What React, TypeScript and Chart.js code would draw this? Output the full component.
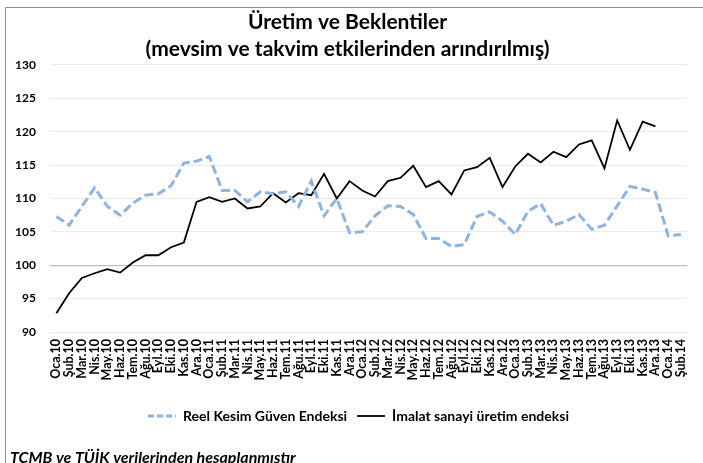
import { useEffect, useRef } from 'react';
import { Chart, registerables } from 'chart.js';

Chart.register(...registerables);

const FONT = 'Lato, "Open Sans", "DejaVu Sans", sans-serif';

const titleLines = ['Üretim ve Beklentiler', '(mevsim ve takvim etkilerinden arındırılmış)'];
const footerText = 'TCMB ve TÜİK verilerinden hesaplanmıştır';
const seriesNames = ['Reel Kesim Güven Endeksi', 'İmalat sanayi üretim endeksi'];

const categories = [
  'Oca.10', 'Şub.10', 'Mar.10', 'Nis.10', 'May.10', 'Haz.10', 'Tem.10', 'Ağu.10', 'Eyl.10', 'Eki.10', 'Kas.10', 'Ara.10',
  'Oca.11', 'Şub.11', 'Mar.11', 'Nis.11', 'May.11', 'Haz.11', 'Tem.11', 'Ağu.11', 'Eyl.11', 'Eki.11', 'Kas.11', 'Ara.11',
  'Oca.12', 'Şub.12', 'Mar.12', 'Nis.12', 'May.12', 'Haz.12', 'Tem.12', 'Ağu.12', 'Eyl.12', 'Eki.12', 'Kas.12', 'Ara.12',
  'Oca.13', 'Şub.13', 'Mar.13', 'Nis.13', 'May.13', 'Haz.13', 'Tem.13', 'Ağu.13', 'Eyl.13', 'Eki.13', 'Kas.13', 'Ara.13',
  'Oca.14', 'Şub.14',
];

const reelKesim = [
  107.3, 106.0, 108.8, 111.6, 108.8, 107.5, 109.3, 110.5, 110.7, 111.9, 115.3, 115.6,
  116.3, 111.2, 111.2, 109.5, 111.0, 110.7, 111.0, 108.8, 112.6, 107.4, 110.0, 104.9,
  105.0, 107.4, 108.9, 108.8, 107.6, 104.0, 104.0, 102.8, 103.1, 107.3, 108.0, 106.6,
  104.6, 108.1, 109.2, 106.0, 106.6, 107.6, 105.4, 106.0, 108.9, 111.8, 111.4, 110.9,
  104.4, 104.6,
];

const imalat = [
  92.8, 95.8, 98.1, 98.8, 99.4, 98.9, 100.4, 101.5, 101.5, 102.7, 103.4, 109.5,
  110.2, 109.5, 110.0, 108.5, 108.8, 110.8, 109.4, 110.8, 110.5, 113.7, 110.0, 112.6,
  111.2, 110.3, 112.6, 113.1, 114.9, 111.7, 112.6, 110.6, 114.2, 114.7, 116.1, 111.7,
  114.8, 116.7, 115.4, 117.0, 116.2, 118.1, 118.7, 114.5, 121.7, 117.3, 121.5, 120.8,
  null, null,
];

const yMin = 90;
const yMax = 130;
const yStep = 5;

const frameFooterPlugin = {
  id: 'frameFooter',
  afterLayout(chart: any) {
    if (chart.legend) {
      chart.legend.left += 22;
    }
  },
  afterDraw(chart: any) {
    const ctx = chart.ctx;
    ctx.save();
    ctx.strokeStyle = '#8c8c8c';
    ctx.lineWidth = 1;
    ctx.setLineDash([]);
    ctx.beginPath();
    ctx.moveTo(5.5, 470);
    ctx.lineTo(5.5, 7.5);
    ctx.lineTo(703, 7.5);
    ctx.stroke();
    ctx.font = `italic bold 16px ${FONT}`;
    ctx.fillStyle = '#000';
    ctx.textBaseline = 'top';
    ctx.textAlign = 'left';
    ctx.fillText(footerText, 10, 450);
    ctx.restore();
  },
};

export default function App() {
  const ref = useRef<HTMLCanvasElement | null>(null);

  useEffect(() => {
    document.body.style.margin = '0';
    const canvas = ref.current;
    if (!canvas) return;
    const chart = new Chart(canvas, {
      type: 'line',
      data: {
        labels: categories,
        datasets: [
          {
            label: seriesNames[0],
            data: reelKesim,
            borderColor: '#8db4e3',
            backgroundColor: '#8db4e3',
            borderWidth: 3,
            borderDash: [9, 4],
            borderCapStyle: 'butt',
            pointRadius: 0,
            tension: 0,
          },
          {
            label: seriesNames[1],
            data: imalat,
            borderColor: '#000000',
            backgroundColor: '#000000',
            borderWidth: 1.8,
            pointRadius: 0,
            tension: 0,
          },
        ],
      },
      options: {
        responsive: false,
        animation: false,
        layout: { padding: { left: 0, right: 8, top: 0, bottom: 30 } },
        plugins: {
          title: {
            display: true,
            text: titleLines,
            color: '#000',
            font: { family: FONT, size: 21, weight: 'bold', lineHeight: 1.29 },
            padding: { top: 8.5, bottom: 2.3 },
          },
          legend: {
            position: 'bottom',
            labels: {
              color: '#000',
              font: { family: FONT, size: 14, weight: 'bold' },
              usePointStyle: true,
              pointStyle: 'line',
              pointStyleWidth: 28,
              boxHeight: 13,
              padding: 10,
              generateLabels: (c: any) => {
                const items = Chart.defaults.plugins.legend.labels.generateLabels(c);
                items.forEach((it: any, i: number) => {
                  it.pointStyle = 'line';
                  if (i === 0) it.lineDash = [6, 3];
                });
                return items;
              },
            },
          },
          tooltip: { enabled: false },
        },
        scales: {
          x: {
            offset: true,
            grid: { display: false, drawTicks: false },
            border: { display: false },
            ticks: {
              autoSkip: false,
              maxRotation: 90,
              minRotation: 90,
              padding: 7,
              color: '#000',
              font: { family: FONT, size: 12.5, weight: 'bold' },
            },
            afterFit: (s: any) => {
              s.height = 67;
            },
          },
          y: {
            min: yMin,
            max: yMax,
            ticks: {
              stepSize: yStep,
              padding: 14,
              color: '#000',
              font: { family: FONT, size: 12, weight: 'bold' },
            },
            grid: {
              drawTicks: false,
              color: (ctx: any) => (ctx.tick && ctx.tick.value === 100 ? '#bfbfbf' : '#ececec'),
              lineWidth: (ctx: any) => (ctx.tick && ctx.tick.value === 100 ? 1.3 : 1),
            },
            border: { display: false },
            afterFit: (s: any) => {
              s.width = 50;
            },
          },
        },
      },
      plugins: [frameFooterPlugin],
    });
    return () => chart.destroy();
  }, []);

  return (
    <div style={{ width: 703, height: 463, position: 'relative', background: '#fff' }}>
      <canvas ref={ref} width={703} height={463} style={{ display: 'block' }} />
    </div>
  );
}
